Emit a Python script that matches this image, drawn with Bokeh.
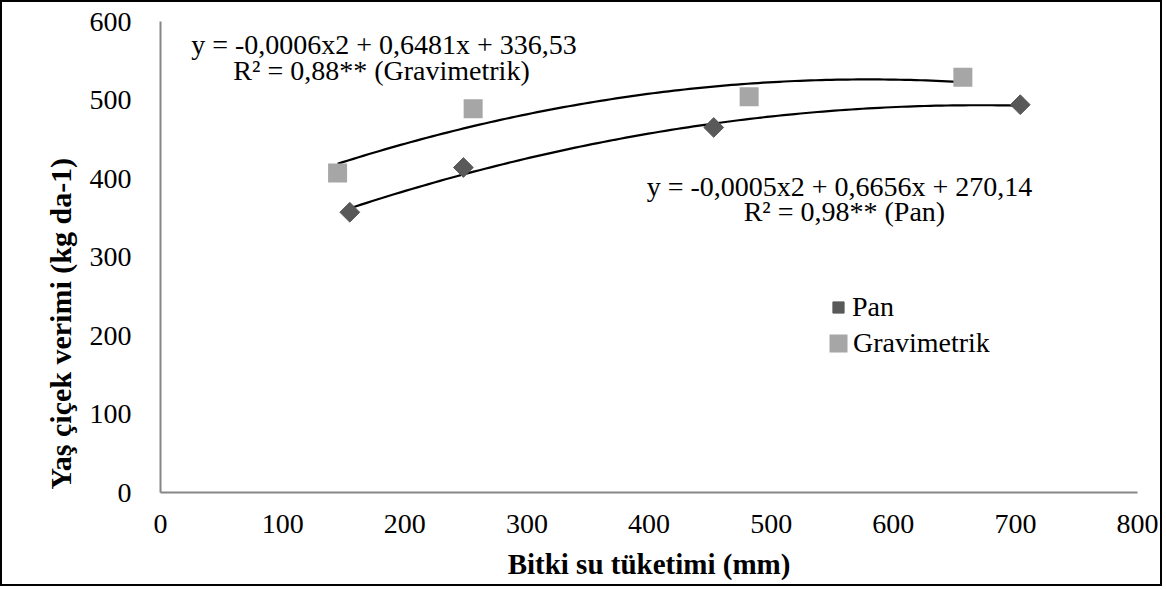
import numpy as np
from bokeh.plotting import figure
from bokeh.models import Range1d, Legend, LegendItem, Label, FixedTicker, Title
from bokeh.embed import file_html
from bokeh.resources import INLINE

# ---- data ----
pan_x = [155, 248, 453, 704]
pan_y = [357, 414, 465, 494]
grav_x = [145, 256, 482, 657]
grav_y = [407, 489, 504, 529]
x_ticks = [0, 100, 200, 300, 400, 500, 600, 700, 800]
y_ticks = [0, 100, 200, 300, 400, 500, 600]
series_names = ["Pan", "Gravimetrik"]
eq_grav = ["y = -0,0006x2 + 0,6481x + 336,53", "R² = 0,88** (Gravimetrik)"]
eq_pan = ["y = -0,0005x2 + 0,6656x + 270,14", "R² = 0,98** (Pan)"]
x_title = "Bitki su tüketimi (mm)"
y_title = "Yaş çiçek verimi (kg da-1)"

FONT = "Liberation Serif"
TXT = "28px"

p = figure(width=1162, height=586,
           x_range=Range1d(0, 800), y_range=Range1d(0, 600),
           output_backend="svg", toolbar_location=None,
           min_border_left=158, min_border_right=27,
           min_border_top=19, min_border_bottom=96,
           styles={"border": "2px solid black"})

p.outline_line_color = None
p.grid.grid_line_color = None
p.background_fill_color = "white"
p.border_fill_color = "white"

for ax in (p.xaxis[0], p.yaxis[0]):
    ax.axis_line_color = "#868686"
    ax.axis_line_width = 2
    ax.major_tick_line_color = None
    ax.minor_tick_line_color = None
    ax.major_label_text_font = FONT
    ax.major_label_text_font_size = TXT
    ax.major_label_text_color = "black"
    ax.axis_label_text_font = FONT
    ax.axis_label_text_font_size = "29px"
    ax.axis_label_text_font_style = "bold"
    ax.axis_label_text_color = "black"

p.xaxis.ticker = FixedTicker(ticks=x_ticks)
p.yaxis.ticker = FixedTicker(ticks=y_ticks)
p.xaxis.axis_label = x_title
p.xaxis.major_label_standoff = 16
p.yaxis.major_label_standoff = 23
p.xaxis.axis_label_standoff = 12

# y-axis title (Excel places it a bit below the centre of the plot)
p.add_layout(Title(text=y_title, align="left", offset=3,
                   vertical_align="bottom", standoff=20,
                   text_font=FONT, text_font_size="30px",
                   text_font_style="bold", text_color="black"), "left")

# trendlines (2nd order polynomial fitted to the data)
for xs_, ys_ in ((grav_x, grav_y), (pan_x, pan_y)):
    c = np.polyfit(xs_, ys_, 2)
    xx = np.linspace(min(xs_), max(xs_), 120)
    p.line(xx, np.polyval(c, xx), line_color="black", line_width=2.2)

r_pan = p.scatter(pan_x, pan_y, marker="square", angle=np.pi / 4, size=14,
                  fill_color="#595959", line_color="#595959")
r_grav = p.scatter(grav_x, grav_y, marker="square", size=13, line_width=6,
                   line_join="miter",
                   fill_color="#a6a6a6", line_color="#a6a6a6")

common = dict(orientation="vertical", background_fill_alpha=0,
              border_line_color=None, label_text_font=FONT,
              label_text_font_size=TXT, label_text_color="black",
              padding=0, margin=0, spacing=0, label_standoff=0)
leg_pan = Legend(items=[LegendItem(label=series_names[0], renderers=[r_pan])],
                 location=(664, 169), glyph_width=28, glyph_height=28,
                 label_height=28, **common)
leg_grav = Legend(items=[LegendItem(label=series_names[1], renderers=[r_grav])],
                  location=(663, 133), glyph_width=30, glyph_height=30,
                  label_height=30, **common)
p.add_layout(leg_pan, "center")
p.add_layout(leg_grav, "center")

def add_label(txt, x, y):
    p.add_layout(Label(x=x, y=y, text=txt, text_align="center",
                       text_baseline="alphabetic", text_font=FONT,
                       text_font_size=TXT, text_color="black"))

add_label(eq_grav[0], 183, 571)
add_label(eq_grav[1], 181, 538)
add_label(eq_pan[0], 556, 390)
add_label(eq_pan[1], 560, 358)

open("out.html", "w").write(file_html(p, INLINE))
